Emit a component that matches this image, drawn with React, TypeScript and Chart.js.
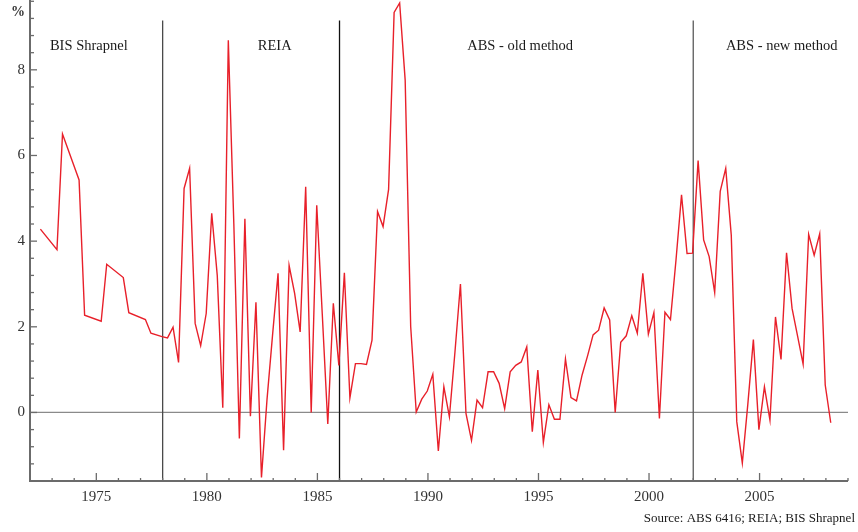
import React, { useEffect, useRef } from 'react';
import { Chart, registerables } from 'chart.js';

Chart.register(...registerables);

// ---- data ----
const quarters: string[] = [
  '1972Q2', '1973Q1', '1973Q2', '1974Q1', '1974Q2', '1975Q1', '1975Q2', '1976Q1', '1976Q2', '1977Q1', '1977Q2', '1977Q4',
  '1978Q1', '1978Q2', '1978Q3', '1978Q4', '1979Q1', '1979Q2', '1979Q3', '1979Q4',
  '1980Q1', '1980Q2', '1980Q3', '1980Q4', '1981Q1', '1981Q2', '1981Q3', '1981Q4',
  '1982Q1', '1982Q2', '1982Q3', '1982Q4', '1983Q1', '1983Q2', '1983Q3', '1983Q4',
  '1984Q1', '1984Q2', '1984Q3', '1984Q4', '1985Q1', '1985Q2', '1985Q3', '1985Q4',
  '1986Q1', '1986Q2', '1986Q3', '1986Q4', '1987Q1', '1987Q2', '1987Q3', '1987Q4',
  '1988Q1', '1988Q2', '1988Q3', '1988Q4', '1989Q1', '1989Q2', '1989Q3', '1989Q4',
  '1990Q1', '1990Q2', '1990Q3', '1990Q4', '1991Q1', '1991Q2', '1991Q3', '1991Q4',
  '1992Q1', '1992Q2', '1992Q3', '1992Q4', '1993Q1', '1993Q2', '1993Q3', '1993Q4',
  '1994Q1', '1994Q2', '1994Q3', '1994Q4', '1995Q1', '1995Q2', '1995Q3', '1995Q4',
  '1996Q1', '1996Q2', '1996Q3', '1996Q4', '1997Q1', '1997Q2', '1997Q3', '1997Q4',
  '1998Q1', '1998Q2', '1998Q3', '1998Q4', '1999Q1', '1999Q2', '1999Q3', '1999Q4',
  '2000Q1', '2000Q2', '2000Q3', '2000Q4', '2001Q1', '2001Q2', '2001Q3', '2001Q4',
  '2002Q1', '2002Q2', '2002Q3', '2002Q4', '2003Q1', '2003Q2', '2003Q3', '2003Q4',
  '2004Q1', '2004Q2', '2004Q3', '2004Q4', '2005Q1', '2005Q2', '2005Q3', '2005Q4',
  '2006Q1', '2006Q2', '2006Q3', '2006Q4', '2007Q1', '2007Q2', '2007Q3', '2007Q4',
  '2008Q1',
];

const growth: number[] = [
  4.28, 3.80, 6.50, 5.43, 2.27, 2.13, 3.46, 3.15, 2.33, 2.17, 1.85, 1.77,
  1.74, 1.99, 1.17, 5.23, 5.70, 2.08, 1.56, 2.31,
  4.65, 3.20, 0.11, 8.69, 4.40, -0.61, 4.52, -0.09,
  2.57, -1.52, 0.30, 1.80, 3.25, -0.88, 3.43, 2.78,
  1.88, 5.27, 0.00, 4.84, 2.30, -0.27, 2.55, 1.10,
  3.26, 0.34, 1.14, 1.14, 1.12, 1.69, 4.69, 4.34,
  5.21, 9.34, 9.56, 7.76, 2.00, 0.01, 0.31, 0.50,
  0.89, -0.90, 0.60, -0.10, 1.40, 3.00, -0.02, -0.65,
  0.29, 0.11, 0.95, 0.95, 0.68, 0.09, 0.95, 1.10,
  1.18, 1.53, -0.45, 0.99, -0.70, 0.18, -0.16, -0.16,
  1.25, 0.35, 0.27, 0.87, 1.32, 1.81, 1.92, 2.44,
  2.16, 0.00, 1.64, 1.79, 2.26, 1.85, 3.25, 1.83,
  2.33, -0.14, 2.34, 2.17, 3.56, 5.08, 3.71, 3.72,
  5.88, 4.03, 3.64, 2.80, 5.16, 5.70, 4.14, -0.22,
  -1.18, 0.20, 1.70, -0.40, 0.60, -0.18, 2.23, 1.24,
  3.73, 2.43, 1.78, 1.13, 4.16, 3.67, 4.17, 0.64,
  -0.24,
];

const xTickYears: number[] = [1975, 1980, 1985, 1990, 1995, 2000, 2005];
const yTickValues: number[] = [0, 2, 4, 6, 8];
const seriesBreaks: number[] = [1978, 1986, 2002];
const sectionNames: string[] = ['BIS Shrapnel', 'REIA', 'ABS - old method', 'ABS - new method'];
const sourceNote = 'Source: ABS 6416; REIA; BIS Shrapnel';
const unitLabel = '%';

// ---- helpers / styling ----
const FONT = '"Liberation Serif", "Times New Roman", serif';
const breakColors = ['#4a4a4a', '#111111', '#5a5a5a'];
const sectionCenters = [1974.66, 1983.07, 1994.17, 2006.0];

function quarterToYear(q: string): number {
  const y = parseInt(q.slice(0, 4), 10);
  const n = parseInt(q.slice(5), 10);
  return y + n * 0.25 - 0.03;
}

const decorPlugin = {
  id: 'decor',
  beforeDatasetsDraw(chart: any) {
    const { ctx, chartArea: a, scales } = chart;
    const x = scales.x;
    const y = scales.y;
    const line = (x1: number, y1: number, x2: number, y2: number) => {
      ctx.beginPath();
      ctx.moveTo(x1, y1);
      ctx.lineTo(x2, y2);
      ctx.stroke();
    };
    ctx.save();
    // zero line
    ctx.strokeStyle = '#8a8a8a';
    ctx.lineWidth = 1.2;
    const y0 = y.getPixelForValue(0);
    line(a.left, y0, a.right, y0);
    // series break lines
    ctx.lineWidth = 1.3;
    seriesBreaks.forEach((b, i) => {
      const px = x.getPixelForValue(b);
      ctx.strokeStyle = breakColors[i];
      line(px, y.getPixelForValue(9.15), px, a.bottom);
    });
    // axes
    ctx.strokeStyle = '#6b6b6b';
    ctx.lineWidth = 2;
    line(a.left, a.top, a.left, a.bottom + 1);
    line(a.left - 1, a.bottom, a.right, a.bottom);
    // x ticks (inside)
    ctx.lineWidth = 1.3;
    for (let yr = 1973; yr <= 2009; yr++) {
      const px = x.getPixelForValue(yr);
      const len = yr % 5 === 0 ? 8 : 3;
      line(px, a.bottom, px, a.bottom - len);
    }
    // y ticks (inside)
    for (let k = -3; k <= 24; k++) {
      const v = k * 0.4;
      const py = y.getPixelForValue(v);
      const major = Math.abs(v / 2 - Math.round(v / 2)) < 1e-6;
      line(a.left, py, a.left + (major ? 7 : 4), py);
    }
    ctx.restore();
  },
  afterDraw(chart: any) {
    const { ctx, scales } = chart;
    const x = scales.x;
    const y = scales.y;
    ctx.save();
    ctx.fillStyle = '#1a1a1a';
    ctx.textBaseline = 'middle';
    ctx.textAlign = 'center';
    ctx.font = `14.5px ${FONT}`;
    sectionNames.forEach((name, i) => {
      ctx.fillText(name, x.getPixelForValue(sectionCenters[i]), y.getPixelForValue(8.55));
    });
    ctx.textAlign = 'left';
    ctx.fillStyle = '#333';
    ctx.font = `bold 14px ${FONT}`;
    ctx.fillText(unitLabel, 11, 12);
    ctx.font = `13px ${FONT}`;
    ctx.textAlign = 'right';
    ctx.fillStyle = '#1a1a1a';
    ctx.fillText(sourceNote, 855, 519);
    ctx.restore();
  },
};

export default function App() {
  const canvasRef = useRef<HTMLCanvasElement | null>(null);

  useEffect(() => {
    if (!canvasRef.current) return;
    const points = quarters.map((q, i) => ({ x: quarterToYear(q), y: growth[i] }));
    const chart = new Chart(canvasRef.current, {
      type: 'line',
      data: {
        datasets: [
          {
            data: points,
            borderColor: 'rgb(232, 32, 42)',
            borderWidth: 1.4,
            pointRadius: 0,
            tension: 0,
            fill: false,
          },
        ],
      },
      options: {
        animation: false,
        responsive: false,
        parsing: false as any,
        layout: { padding: { left: 0, right: 10, top: 0, bottom: 0 } },
        plugins: { legend: { display: false }, tooltip: { enabled: false } },
        scales: {
          x: {
            type: 'linear',
            min: 1972,
            max: 2009,
            grid: { display: false, drawTicks: false },
            border: { display: false },
            ticks: {
              font: { family: FONT, size: 15 },
              color: '#333',
              padding: 7,
              callback: (v: any) => String(v),
            },
            afterBuildTicks: (s: any) => {
              s.ticks = xTickYears.map((v) => ({ value: v }));
            },
            afterFit: (s: any) => {
              s.height = 51;
              s.paddingLeft = 0;
              s.paddingRight = 0;
            },
          },
          y: {
            type: 'linear',
            min: -1.6,
            max: 9.63,
            grid: { display: false, drawTicks: false },
            border: { display: false },
            ticks: {
              font: { family: FONT, size: 15 },
              color: '#333',
              padding: 5,
              callback: (v: any) => String(v),
            },
            afterBuildTicks: (s: any) => {
              s.ticks = yTickValues.map((v) => ({ value: v }));
            },
            afterFit: (s: any) => {
              s.width = 30;
              s.paddingTop = 0;
              s.paddingBottom = 0;
            },
          },
        },
      },
      plugins: [decorPlugin],
    } as any);
    return () => chart.destroy();
  }, []);

  return (
    <div style={{ position: 'fixed', left: 0, top: 0, width: 858, height: 532, background: '#fff' }}>
      <canvas ref={canvasRef} width={858} height={532} style={{ display: 'block', width: 858, height: 532 }} />
    </div>
  );
}
